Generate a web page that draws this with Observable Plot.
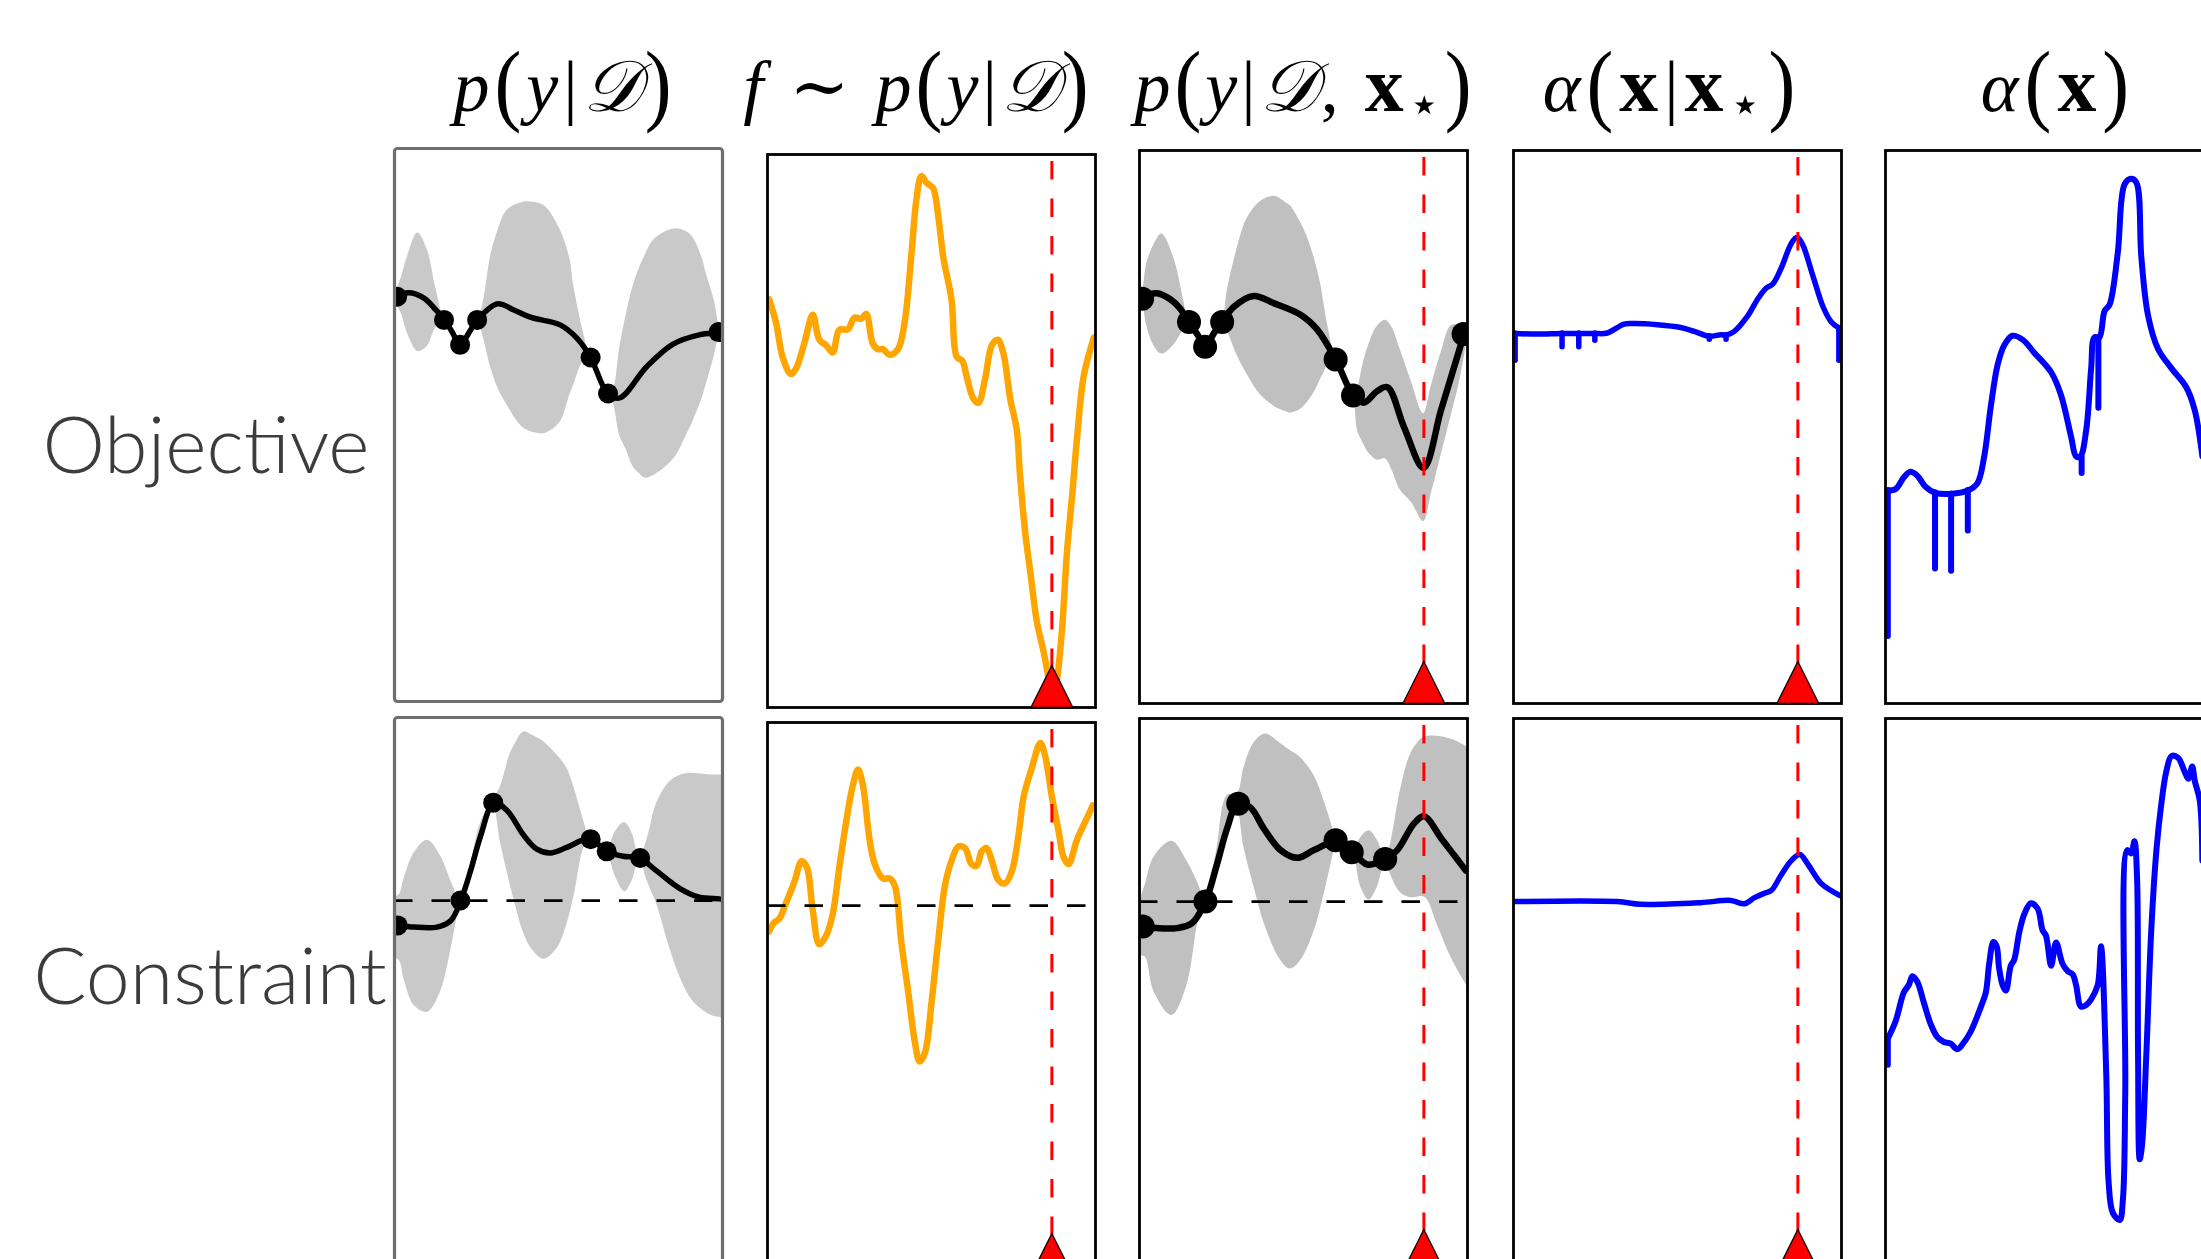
<!DOCTYPE html>
<html><head><meta charset="utf-8">
<script src="https://cdn.jsdelivr.net/npm/d3@7"></script>
<script src="https://cdn.jsdelivr.net/npm/@observablehq/plot@0.6"></script>
<style>
html,body{margin:0;padding:0;background:#fff;}
body{width:2201px;height:1259px;overflow:hidden;position:relative;}
.title{position:absolute;top:44px;transform:translateX(-50%);white-space:nowrap;font-family:"Liberation Serif","DejaVu Serif",serif;font-size:72px;line-height:1;color:#000;}
.title i{font-style:italic;}
.title b{font-weight:bold;font-style:normal;font-size:1.08em;}
.title sub{font-size:0.72em;vertical-align:-0.22em;}
.title .pr{display:inline-block;font-size:1.12em;transform:scaleY(1.12);}
.rowlab{position:absolute;transform:translateX(-50%);font-family:Lato,"Open Sans",sans-serif;font-weight:300;font-size:79px;line-height:1;color:#3c3c3c;white-space:nowrap;}
svg.panel{position:absolute;overflow:visible;background:transparent;}
</style></head><body>
<script>
// ---------- labels ----------
const rowLabels = ["Objective", "Constraint"];
const colTitles = [
  '<i>p</i><span class="pr">(</span><i>y</i>|<i>𝒟</i><span class="pr">)</span>',
  '<i>f</i> ∼ <i>p</i><span class="pr">(</span><i>y</i>|<i>𝒟</i><span class="pr">)</span>',
  '<i>p</i><span class="pr">(</span><i>y</i>|<i>𝒟</i>, <b>x</b><sub>⋆</sub><span class="pr">)</span>',
  '<i>α</i><span class="pr">(</span><b>x</b>|<b>x</b><sub>⋆</sub><span class="pr">)</span>',
  '<i>α</i><span class="pr">(</span><b>x</b><span class="pr">)</span>'
];

// ---------- shared values (x and y in % of the panel) ----------
const starX = 86.7;
const conThreshold = 66.9;
const objObsX = [0.8, 15.1, 20, 25.2, 59.8, 65.1, 98.8];
const objObsY = [73.2, 69, 64.5, 69, 62.2, 55.7, 66.8];
const conObsX = [1, 20.1, 30.1, 59.8, 64.7, 74.9];
const conObsY = [62.4, 66.9, 84.6, 78, 75.8, 74.6];

// ---------- Objective, p(y|D) ----------
const aMeanX = [0.5, 4, 9.1, 12.6, 15.2, 17.7, 20, 22.7, 25.3, 31.3, 36.4, 41.4, 50.5, 55.6, 59.8, 65.1, 68.7, 76.8, 84.8, 92.9, 98.5, 100];
const aMeanY = [72.9, 73.9, 72.9, 70.8, 69, 66.7, 64.3, 66.7, 69, 71.9, 70.8, 69.5, 68.1, 65.7, 62.2, 55.6, 54.9, 60.5, 64.6, 66.3, 66.7, 66.8];
const aBandX = [0, 2, 4, 7.1, 10.1, 12.5, 15.2, 20, 25.3, 27, 29.3, 31.3, 34.3, 39.4, 44.4, 46.5, 50.5, 53.5, 54.5, 57.6, 59.8, 62.5, 65.1, 66.7, 68.7, 70.7, 72.7, 74.7, 76.3, 78.8, 82.8, 85.9, 88.9, 90.9, 93.9, 94.9, 97.5, 99, 100];
const aBandLo = [72.4, 70.3, 66.5, 63.3, 64.3, 67.5, 69, 64.3, 69, 66, 60.5, 57, 53.6, 49.4, 48.4, 48.6, 50.5, 55.5, 57, 61.5, 62.2, 58.5, 55.6, 54, 48, 45.5, 42.5, 41.2, 40.4, 40.8, 42.5, 44.5, 48, 50.5, 55, 57, 62.5, 66, 66.7];
const aBandHi = [73.4, 76.5, 80.5, 84.7, 81.5, 75, 69, 64.3, 69, 72, 80.5, 84.7, 88.8, 90.3, 90, 89.2, 85.3, 80, 75.7, 66.7, 62.2, 59.5, 55.6, 56.5, 64, 70.1, 75, 78.4, 80.5, 83.3, 85, 85.5, 85, 84, 80, 77.7, 72.5, 68, 66.7];

// ---------- Objective, sample f ----------
const bX = [0.5, 2.6, 4.6, 7.1, 8.7, 11.2, 13.8, 15.8, 17.9, 19.9, 21.9, 24.5, 26.5, 28.6, 30.1, 32.1, 33.7, 35.2, 37.2, 39.8, 41.8, 43.9, 45.4, 46.9, 48.5, 50.5, 52, 53.6, 56.1, 57.7, 59.4, 60.7, 62.8, 64.3, 66.3, 68.4, 70.2, 71.9, 74, 76, 77, 78.6, 80.1, 82.1, 84.2, 85.7, 86.9, 88.3, 89.8, 91.3, 92.9, 94.4, 96.4, 99.5];
const bY = [73.8, 69.6, 63.4, 60.3, 61.3, 65.8, 71.0, 66.5, 65.5, 64.2, 68.3, 68.4, 70.5, 70.3, 71.2, 65.8, 64.8, 64.8, 63.8, 64.8, 69.6, 82.1, 91.8, 96.1, 94.9, 93.9, 89.1, 81.4, 73.8, 63.4, 62.7, 59.9, 55.8, 55.1, 59.3, 65.5, 66.5, 64.1, 55.8, 50.2, 41.9, 31.5, 24.6, 15.6, 10.0, 5.2, 1.0, 5.2, 14.2, 28.1, 38.5, 48.9, 59.9, 66.9];

// ---------- Objective, p(y|D, x*) ----------
const cMeanX = [0.7, 5.3, 9.4, 12.4, 15, 17.5, 20.1, 22.6, 25.2, 28.7, 34.8, 40.9, 49.1, 54.2, 59.8, 65.1, 68.4, 72.5, 75.6, 80.7, 86.6, 91.9, 95.9, 99];
const cMeanY = [73.5, 74.2, 73.1, 71.4, 69, 66.9, 64.6, 66.9, 69, 71.7, 73.7, 72.4, 70.3, 67.6, 62.2, 55.8, 54.4, 56.5, 57.2, 49.9, 42.6, 53, 60.8, 66.9];
const cBandX = [0, 0.7, 2.2, 4.3, 6.8, 10.4, 13.4, 15, 17.5, 20.1, 22.6, 25.2, 26.7, 29.7, 32.8, 36.9, 40.5, 42, 45, 46, 49.1, 51.1, 53.2, 55.2, 56.2, 57.7, 59.8, 62.5, 65.1, 66.5, 68, 70, 72.5, 75, 77, 79.5, 83, 86.6, 89, 92, 95, 97.5, 100];
const cBandHi = [74.5, 73.5, 79.5, 82.8, 84.9, 80.7, 73.1, 69, 67.6, 64.6, 67.6, 69, 74.5, 82.1, 87.7, 90.8, 91.7, 91.6, 90.4, 90, 87, 84.5, 80.7, 76, 72.4, 67.5, 62.2, 59.5, 55.8, 57, 61, 65, 68.2, 69.3, 68, 64, 58, 52.4, 57.5, 63.5, 68.3, 68.3, 66];
const cBandLo = [72.5, 73.5, 68.3, 64.8, 63.2, 64.8, 67.6, 69, 66.2, 64.6, 66.2, 69, 67.5, 63, 59.5, 55.8, 54, 53.4, 52.7, 52.5, 53.2, 54.4, 56.2, 58.6, 59.8, 61.5, 62.2, 58.3, 55.8, 49.3, 47.3, 45.2, 44, 44.2, 42.2, 38.6, 36.3, 32.9, 38, 45, 52, 57.9, 66];

// ---------- Objective, alpha(x|x*) ----------
const dX = [0.5, 7.1, 14.8, 19.9, 24.8, 28.6, 33.7, 36.7, 43.9, 51, 55.1, 59.7, 63.3, 64.8, 67.3, 71.4, 74.5, 77, 79.1, 81.6, 84.7, 86.5, 88.2, 91.3, 94.4, 96.9, 99.2];
const dY = [66.9, 66.8, 66.9, 66.9, 66.9, 67, 68.6, 68.7, 68.5, 68, 67.3, 66.4, 66.7, 66.6, 67.3, 70.1, 73.2, 75.1, 75.9, 78.7, 83.2, 84.3, 82.9, 77.3, 71.7, 69, 67.9];
const dSpikeX = [0.5, 14.8, 19.9, 24.8, 59.7, 64.8, 99.2];
const dSpikeTop = [66.9, 66.9, 66.9, 66.9, 66.4, 66.6, 67.9];
const dSpikeBot = [62, 64.4, 64.4, 65.6, 65.8, 65.8, 62];

// ---------- Objective, alpha(x) ----------
const eX = [0.7, 3.1, 5.6, 7.6, 9.7, 12.2, 15.1, 20, 25.1, 28, 30.1, 32.1, 34.2, 36.2, 38.7, 41.8, 45.4, 50.5, 53.5, 56.6, 58.1, 59.4, 61.2, 62.7, 63.7, 65.2, 66.8, 68.3, 70.8, 72.9, 74.9, 76.5, 78, 80, 83.1, 87.2, 91.7, 94.3, 96.6];
const eY = [38.5, 38.8, 40.9, 41.9, 41.2, 39.2, 38.1, 37.9, 38.5, 39.8, 44.7, 53.7, 61.3, 64.8, 66.5, 65.8, 63.4, 59.9, 55.8, 48.2, 44.7, 44.7, 49.5, 60.6, 66.2, 66.2, 71, 72.1, 81.4, 93.9, 94.9, 94.2, 80.7, 70.3, 64.1, 60.6, 57.2, 53, 44.7];
const eSpikeX = [0.7, 15.1, 20, 25.1, 59.8, 64.9];
const eSpikeTop = [38.5, 38.1, 37.9, 38.5, 44.5, 66.2];
const eSpikeBot = [12.1, 24.3, 23.9, 31.2, 41.6, 53.4];

// ---------- Constraint, p(y|D) ----------
const fMeanX = [1.5, 6, 13, 17.2, 20.2, 23.2, 26.3, 30.3, 34.3, 39.4, 43.4, 47.5, 52.5, 59.6, 64.6, 69.7, 74.7, 79.8, 86.9, 92.9, 99, 100];
const fMeanY = [62.4, 62.1, 62.1, 63.3, 66.9, 72.3, 78.7, 84.6, 83.2, 78.7, 76.2, 75.5, 76.5, 78.1, 75.8, 74.9, 74.6, 72.3, 69.1, 67.5, 67.2, 67.1];
const fBandX = [0, 1.5, 3, 6, 10.1, 14.1, 17.7, 20.2, 23.2, 26.3, 30.3, 32.3, 35, 36.4, 39.4, 42, 45.5, 49.5, 52.5, 55, 57.6, 59.6, 62, 64.6, 67.5, 70.2, 72.5, 74.7, 77, 80, 83.8, 87, 90, 93, 97, 100];
const fBandHi = [67.5, 68, 71, 75.5, 77.8, 74.9, 69.7, 66.9, 73.5, 81, 85.5, 87.5, 93, 94.8, 97.4, 96.8, 95.6, 93.2, 90.9, 86.8, 81.5, 78.1, 77.5, 75.8, 79.5, 81, 79, 74.6, 78, 84.6, 88.3, 89.5, 89.9, 89.8, 89.6, 89.6];
const fBandLo = [56.5, 56, 52.5, 47.9, 46.7, 50.5, 59.5, 66.9, 71, 76.5, 83.5, 77.4, 70.5, 67.2, 61, 58, 56.3, 58.2, 62.5, 68.5, 76.2, 78.1, 76.5, 75.8, 71, 68.5, 70.5, 74.6, 70.5, 66.2, 58.5, 53.1, 49.5, 47.5, 46, 45.7];

// ---------- Constraint, sample f ----------
const gX = [0.5, 2, 3.6, 5.6, 8.2, 10.4, 12, 13.8, 15.8, 17.9, 19.9, 21.9, 24, 26, 27.6, 29.1, 31.1, 32.7, 35.2, 37.2, 38.8, 40.8, 42.9, 44.9, 46.4, 48, 50, 52, 54.1, 56.1, 58.2, 60.2, 62.2, 63.8, 65.3, 66.8, 68.4, 70.4, 72.4, 74.5, 76.5, 78.1, 80.6, 83.2, 84.7, 86.7, 88.8, 90.3, 91.8, 94.4, 96.9, 99.2];
const gY = [62.2, 63.8, 64.5, 67.3, 71.2, 74.9, 73.8, 66.0, 59.9, 61.5, 65.4, 73.8, 82.1, 88.6, 91.5, 88.6, 78.9, 74.4, 71.8, 71.8, 70.5, 60.3, 51.3, 42.3, 38.7, 40.3, 49.3, 60.3, 70.5, 75.0, 77.6, 77.3, 74.4, 74.1, 76.7, 77.3, 75.0, 71.5, 70.9, 73.1, 79.5, 86.6, 91.8, 96.3, 93.8, 86.6, 80.2, 75.6, 74.4, 78.9, 82.1, 85.0];

// ---------- Constraint, p(y|D, x*) ----------
const hMeanX = [0.7, 5.3, 11.4, 16, 20.1, 23.6, 26.7, 29.9, 33.8, 37.9, 43, 48.1, 53.2, 60.1, 64.9, 69.5, 75.1, 78.6, 83.7, 86.8, 91.9, 95.9, 99.5];
const hMeanY = [62.4, 62.1, 62.1, 63, 66.9, 73.6, 80.1, 84.6, 83.9, 80.1, 76.2, 74.8, 76.2, 77.8, 75.9, 73.6, 74.6, 76.2, 81, 82.3, 78.4, 75.3, 72.5];
const hBandX = [0, 1.7, 4.5, 9.9, 14.5, 18, 20.1, 23.5, 26.7, 29.9, 31.8, 34.8, 38.4, 43, 46, 49.1, 53.2, 56.2, 59.3, 60.1, 62.5, 64.9, 67.5, 70, 72.5, 75.1, 76.6, 79.6, 82.7, 86.3, 87.8, 90.8, 94.9, 97, 100];
const hBandHi = [67, 69.8, 75, 77.8, 74.2, 70, 66.9, 76, 86, 86.5, 91, 95.5, 97.2, 95.5, 94.2, 92.9, 89.7, 85.2, 79.4, 77.8, 77.5, 75.9, 78.5, 79.7, 78, 74.6, 77.5, 87.1, 93.6, 96.5, 96.8, 96.8, 96.3, 95.8, 94.8];
const hBandLo = [57, 56.9, 50.5, 46.3, 51.8, 63.5, 66.9, 72.5, 78.5, 83, 76.8, 69.8, 62.3, 56.3, 54.7, 56.2, 61.5, 68, 76, 77.8, 76.5, 75.9, 69.5, 67.2, 69.5, 74.6, 71.7, 68.5, 67.6, 67.8, 67.2, 62.7, 56.9, 54.5, 51.5];

// ---------- Constraint, alpha(x|x*) ----------
const iX = [0.5, 31.6, 38.8, 57.1, 66.3, 70.4, 73.5, 76.5, 78.6, 81.6, 84.7, 87.3, 89.8, 93.9, 99.5];
const iY = [66.9, 66.9, 66.4, 66.7, 67.1, 66.5, 67.6, 68.4, 68.9, 71.7, 74.3, 75.4, 73.6, 70.1, 68];

// ---------- Constraint, alpha(x) ----------
const jX = [0.7, 3.1, 5.6, 7.1, 8.2, 9.7, 11.7, 13.8, 15.8, 17.8, 19.9, 21.9, 24, 26, 29.1, 30.6, 31.6, 32.9, 33.9, 34.6, 35.7, 36.7, 38.2, 39.2, 40.8, 42.3, 44.3, 46.4, 47.9, 48.9, 50.5, 52, 54, 55.6, 57.1, 58.1, 59.6, 61.2, 62.7, 64.7, 65.7, 67.3, 68, 69.3, 71.4, 72.4, 73.1, 73.7, 74.9, 75.9, 76.7, 77, 77.5, 78.2, 79.5, 81, 82.6, 84.1, 85.6, 87.2, 89.2, 91.2, 92.3, 93.5, 94.3, 95.8, 96.6];
const jY = [42.1, 45.3, 50.5, 51.8, 53.4, 52.4, 48.6, 44.7, 42.4, 41.5, 41.2, 40.2, 41.5, 43.4, 47.9, 50.5, 55.6, 59.6, 58.8, 55, 51.8, 50.8, 55.3, 56.3, 61.4, 64.6, 66.6, 65.6, 61.7, 60.8, 55.3, 59.5, 55.6, 54.3, 53.7, 51.8, 47.9, 48.2, 49.2, 51.8, 58.8, 35.7, 16.4, 10.6, 9.3, 13.2, 32.5, 76.2, 75.6, 77.8, 71.1, 38.9, 20.3, 22.8, 38.9, 61.4, 76.2, 84.6, 90.4, 93.2, 92.9, 90.4, 89.1, 91.3, 88.7, 85.2, 74.3];
const jSpikeX = [0.7];
const jSpikeTop = [42.1];
const jSpikeBot = [37.3];

// ---------- layout ----------
const M = 8;
const PW = 328, PH = 553;
const colLeft = [394, 767, 1139, 1513, 1885];
const rowTop = [[148, 154, 150, 150, 150], [717, 722, 718, 718, 718]];
const titleX = [565, 918, 1305, 1672, 2058];
const titleSpacing = [5, 4, 4, 6, 6];
const rowLabX = [206, 210];
const rowLabTop = [403, 934];

const BLUE = "#0000ff", ORANGE = "#ffa500", RED = "#ff0000";
const triSymbol = {draw(ctx, size) { const r = Math.sqrt(size / Math.PI); ctx.moveTo(0, -2 * r); ctx.lineTo(r, 0); ctx.lineTo(-r, 0); ctx.closePath(); }};

function panel(col, row, marks) {
  const svg = Plot.plot({
    width: PW + 2 * M, height: PH + 2 * M, margin: M,
    x: {domain: [0, 100], axis: null}, y: {domain: [0, 100], axis: null},
    style: {background: "transparent", overflow: "visible"},
    marks
  });
  svg.classList.add("panel");
  svg.style.left = (colLeft[col] - M) + "px";
  svg.style.top = (rowTop[row][col] - M) + "px";
  document.body.appendChild(svg);
}
const frame = (gray) => gray ? Plot.frame({stroke: "#6e6e6e", strokeWidth: 3.2, rx: 3}) : Plot.frame({stroke: "#000", strokeWidth: 2.8});
const band = (X, lo, hi, fill) => Plot.areaY(X, {x: X, y1: lo, y2: hi, fill, curve: "catmull-rom", clip: true});
const curve = (X, Y, stroke, w, c = "catmull-rom") => Plot.line(X, {x: X, y: Y, stroke, strokeWidth: w, curve: c, clip: true});
const obs = (X, Y, r) => Plot.dot(X, {x: X, y: Y, r, fill: "#000", clip: true});
const spikes = (X, top, bot, w) => Plot.ruleX(X, {x: X, y1: top, y2: bot, stroke: BLUE, strokeWidth: w, strokeLinecap: "round"});
const star = () => [
  Plot.ruleX([starX], {x: d => d, stroke: RED, strokeWidth: 3, strokeDasharray: "18.5,19", insetTop: 7}),
  Plot.dot([starX], {x: d => d, frameAnchor: "bottom", symbol: triSymbol, r: 21, fill: RED, stroke: "#000", strokeWidth: 1.3})
];
const thresh = () => Plot.ruleY([conThreshold], {y: d => d, stroke: "#000", strokeWidth: 2.8, strokeDasharray: "18.5,19"});

// Row 1 (Objective)
panel(0, 0, [band(aBandX, aBandLo, aBandHi, "#c9c9c9"), curve(aMeanX, aMeanY, "#000", 5.5), obs(objObsX, objObsY, 10), frame(true)]);
panel(1, 0, [curve(bX, bY, ORANGE, 6.5), frame(false), ...star()]);
panel(2, 0, [band(cBandX, cBandLo, cBandHi, "#c0c0c0"), curve(cMeanX, cMeanY, "#000", 6.5), obs(objObsX, objObsY, 12), frame(false), ...star()]);
panel(3, 0, [curve(dX, dY, BLUE, 5.5), spikes(dSpikeX, dSpikeTop, dSpikeBot, 5.5), frame(false), ...star()]);
panel(4, 0, [curve(eX, eY, BLUE, 6), spikes(eSpikeX, eSpikeTop, eSpikeBot, 6), frame(false)]);
// Row 2 (Constraint)
panel(0, 1, [band(fBandX, fBandLo, fBandHi, "#c9c9c9"), thresh(), curve(fMeanX, fMeanY, "#000", 5.5), obs(conObsX, conObsY, 10), frame(true)]);
panel(1, 1, [curve(gX, gY, ORANGE, 6.5), thresh(), frame(false), ...star()]);
panel(2, 1, [band(hBandX, hBandLo, hBandHi, "#c0c0c0"), thresh(), curve(hMeanX, hMeanY, "#000", 6.5), obs(conObsX, conObsY, 12), frame(false), ...star()]);
panel(3, 1, [curve(iX, iY, BLUE, 5.5), frame(false), ...star()]);
panel(4, 1, [curve(jX, jY, BLUE, 6), spikes(jSpikeX, jSpikeTop, jSpikeBot, 6), frame(false)]);

// titles and row labels
colTitles.forEach((html, i) => {
  const d = document.createElement("div");
  d.className = "title"; d.innerHTML = html; d.style.left = titleX[i] + "px";
  d.style.letterSpacing = titleSpacing[i] + "px";
  document.body.appendChild(d);
});
rowLabels.forEach((t, i) => {
  const d = document.createElement("div");
  d.className = "rowlab"; d.textContent = t; d.style.left = rowLabX[i] + "px"; d.style.top = rowLabTop[i] + "px";
  document.body.appendChild(d);
});
</script>
</body></html>
